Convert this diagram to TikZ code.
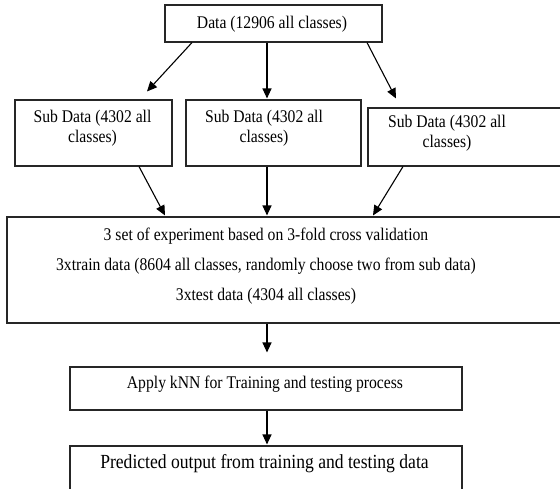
\documentclass[tikz,border=0pt]{standalone}
\usepackage{fontspec}
\setmainfont[FakeStretch=0.88]{Liberation Serif}
\usetikzlibrary{arrows.meta,calc}
\begin{document}
\begin{tikzpicture}[x=1pt,y=-1pt,
  box/.style={draw=black!85,line width=1.1pt,rectangle,inner sep=0pt},
  txt/.style={inner sep=0pt,align=center,font=\fontsize{17.8}{20}\selectfont},
  conn/.style={line width=1.1pt,-{Triangle[length=10pt,width=9pt]}}]
\useasboundingbox (0,0) rectangle (560,488);
\begin{scope}
\clip (0,0) rectangle (560,488);
% boxes
\node[box,minimum width=217,minimum height=37] (top) at (273.5,23.5) {};
\node[box,minimum width=157,minimum height=66] (sub1) at (93.5,133) {};
\node[box,minimum width=175,minimum height=66] (sub2) at (273.5,133) {};
\node[box,minimum width=202,minimum height=58] (sub3) at (469,137) {};
\node[box,minimum width=563,minimum height=106] (big) at (288.5,270) {};
\node[box,minimum width=392,minimum height=43] (knn) at (266,388.5) {};
\node[box,minimum width=392,minimum height=60] (pred) at (266,476) {};
\end{scope}
% texts
\node[txt] (toptxt) at (272,24) {Data (12906 all classes)};
\node[txt] (sub1txt) at (92.5,128) {Sub Data (4302 all\\classes)};
\node[txt] (sub2txt) at (264,128) {Sub Data (4302 all\\classes)};
\node[txt] (sub3txt) at (447,133.5) {Sub Data (4302 all\\classes)};
\node[txt] (bigl1) at (266,236) {3 set of experiment based on 3-fold cross validation};
\node[txt] (bigl2) at (266,266) {3xtrain data (8604 all classes, randomly choose two from sub data)};
\node[txt] (bigl3) at (266,296) {3xtest data (4304 all classes)};
\node[txt] (knntxt) at (265,384) {Apply kNN for Training and testing process};
\node[txt,font=\fontsize{20}{22}\selectfont] (predtxt) at (264.5,464) {Predicted output from training and testing data};
% connector ends
\coordinate (e1) at ($(top.south)+(-81.5,0)$);
\coordinate (e2) at ($(top.south)+(-6.5,0)$);
\coordinate (e3) at ($(top.south)+(93.5,0)$);
\coordinate (f1) at ($(sub1.north)+(53.5,-8)$);
\coordinate (f2) at ($(sub2.north)+(-6.5,-1)$);
\coordinate (f3) at ($(sub3.north)+(-73,-9)$);
\coordinate (g1) at ($(sub1.south)+(45.5,0)$);
\coordinate (g2) at ($(sub2.south)+(-6.5,0)$);
\coordinate (g3) at ($(sub3.south)+(-66,0)$);
\coordinate (h1) at ($(big.north)+(-123.5,-1)$);
\coordinate (h2) at ($(big.north)+(-21.5,-1)$);
\coordinate (h3) at ($(big.north)+(84.5,-1)$);
\coordinate (b1) at ($(big.south)+(-21.5,0)$);
\coordinate (k1) at ($(knn.north)+(1,-14)$);
\coordinate (k2) at ($(knn.south)+(1,0)$);
\coordinate (p1) at ($(pred.north)+(1,-1)$);
\draw[conn] (e1) -- (f1);
\draw[conn] (e2) -- (f2);
\draw[conn] (e3) -- (f3);
\draw[conn] (g1) -- (h1);
\draw[conn] (g2) -- (h2);
\draw[conn] (g3) -- (h3);
\draw[conn] (b1) -- (k1);
\draw[conn] (k2) -- (p1);
\end{tikzpicture}
\end{document}
